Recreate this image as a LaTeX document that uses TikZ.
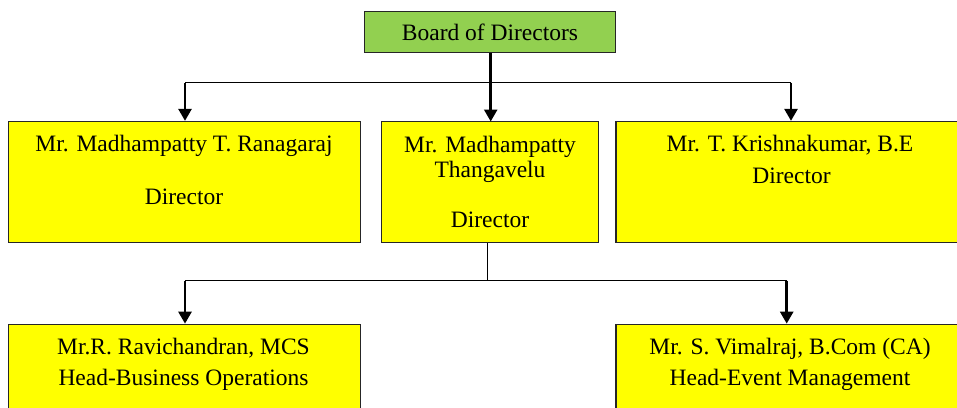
\documentclass[tikz,border=0pt]{standalone}
\usepackage{fontspec}
\setmainfont{Liberation Serif}
\usetikzlibrary{arrows.meta}
\definecolor{boardgreen}{HTML}{92D050}
\definecolor{boxyellow}{HTML}{FFFF00}
\begin{document}
\begin{tikzpicture}[x=1pt,y=-1pt,
  box/.style={draw=black!85,line width=1.3pt,rectangle,inner sep=0pt},
  txt/.style={anchor=base,inner sep=0pt,font=\fontsize{23.5}{27}\selectfont},
  thin/.style={line width=1.4pt,black},
  arr/.style={line width=2.6pt,black,-{Triangle[width=13pt,length=12pt]}}]
\useasboundingbox (0,0) rectangle (957,407);
\clip (0,0) rectangle (957,407);
% boxes
\node[box,fill=boardgreen,minimum width=251pt,minimum height=41pt] (board) at (490,31.7) {};
\node[box,fill=boxyellow,minimum width=352pt,minimum height=121pt] (d1) at (184.2,182) {};
\node[box,fill=boxyellow,minimum width=217pt,minimum height=121pt] (d2) at (489.7,182) {};
\node[box,fill=boxyellow,minimum width=348pt,minimum height=121pt] (d3) at (790,182) {};
\node[box,fill=boxyellow,minimum width=352pt,minimum height=121pt] (h1) at (184.2,384.8) {};
\node[box,fill=boxyellow,minimum width=348pt,minimum height=121pt] (h2) at (790,384.8) {};
% texts
\node[txt] (tb) at (490,40.7) {Board of Directors};
\node[txt] (t1a) at (184,151.7) {Mr. Madhampatty T. Ranagaraj};
\node[txt] (t1b) at (184,204) {Director};
\node[txt] (t2a) at (490,152) {Mr. Madhampatty};
\node[txt] (t2b) at (490,177) {Thangavelu};
\node[txt] (t2c) at (490,227) {Director};
\node[txt] (t3a) at (790,151.7) {Mr. T. Krishnakumar, B.E};
\node[txt] (t3b) at (791.5,183.3) {Director};
\node[txt] (t4a) at (183.5,354.3) {Mr.R. Ravichandran, MCS};
\node[txt] (t4b) at (183.5,385.7) {Head-Business Operations};
\node[txt] (t5a) at (790,354.3) {Mr. S. Vimalraj, B.Com (CA)};
\node[txt] (t5b) at (790,385.7) {Head-Event Management};
% connectors
\coordinate (j1l) at (185,82.7);
\coordinate (j1r) at (791,82.7);
\draw[thin] (j1l) -- (j1r);
\draw[arr] (j1l) -- (j1l |- d1.north);
\draw[arr] (j1r) -- (j1r |- d3.north);
\draw[arr] (board.south -| 490.7,0) -- (490.7,121.5);
\coordinate (j2) at (487.5,280.7);
\coordinate (j2l) at (185,280.7);
\coordinate (j2r) at (786.7,280.7);
\draw[thin] (d2.south -| j2) -- (j2);
\draw[thin] (j2l) -- (j2r);
\draw[arr] (j2l) -- (j2l |- h1.north);
\draw[arr] (j2r) -- (j2r |- h2.north);
\end{tikzpicture}
\end{document}
